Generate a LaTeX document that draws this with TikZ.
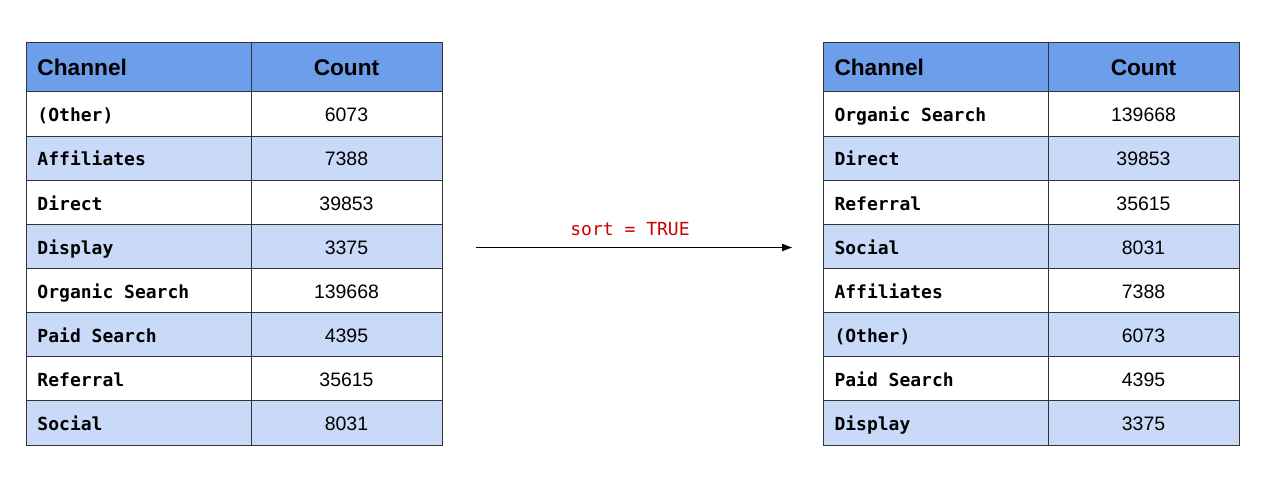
\documentclass[tikz,border=0pt]{standalone}
\usepackage{fontspec}
\setmainfont{Liberation Sans}
\newfontfamily\chanfont{DejaVu Sans Mono}
\usetikzlibrary{arrows.meta}

\definecolor{headblue}{RGB}{109,158,235}
\definecolor{rowblue}{RGB}{201,218,248}
\definecolor{sortred}{RGB}{204,0,0}
\definecolor{gridgray}{RGB}{51,51,51}

\tikzset{every picture/.style={line width=0.75pt}}
\tikzset{
  cellline/.style={draw=gridgray, line width=0.75pt},
  headtxt/.style={inner sep=0pt, text height=0.72em, text depth=0pt, font=\fontsize{17}{20}\selectfont\bfseries},
  chantxt/.style={inner sep=0pt, anchor=west, text height=0.72em, text depth=0pt, font=\fontsize{13.5}{16}\selectfont\chanfont\bfseries},
  counttxt/.style={inner sep=0pt, text height=0.72em, text depth=0pt, font=\fontsize{14.6}{17}\selectfont},
  sorttxt/.style={inner sep=0pt, text height=0.72em, text depth=0pt, text=sortred, font=\fontsize{13.5}{16}\selectfont\chanfont},
}

\begin{document}
\begin{tikzpicture}[x=0.75pt,y=0.75pt,yscale=-1]
\useasboundingbox (0,0) rectangle (1272,481);

%Shape: Rectangle [left header]
\draw [cellline, fill=headblue] (26,43) rectangle (251,92);
\draw [cellline, fill=headblue] (251,43) rectangle (442,92);
% Text Node
\node [headtxt, anchor=west] (lhchan) at (37,70.5) {Channel};
% Text Node
\node [headtxt] (lhcnt) at (346.5,70.5) {Count};

%Shape: Rectangle [left rows]
\foreach \chan/\cnt [count=\i] in {{(Other)}/6073, {Affiliates}/7388, {Direct}/39853, {Display}/3375, {Organic Search}/139668, {Paid Search}/4395, {Referral}/35615, {Social}/8031}{
  \pgfmathsetmacro{\yt}{92+(\i-1)*44.125}
  \pgfmathsetmacro{\yb}{\yt+44.125}
  \pgfmathsetmacro{\ym}{\yt+25}
  \ifodd\i \def\rowfill{white}\else \def\rowfill{rowblue}\fi
  \draw [cellline, fill=\rowfill] (26,\yt) rectangle (251,\yb);
  \draw [cellline, fill=\rowfill] (251,\yt) rectangle (442,\yb);
  \node [chantxt] (lchan\i) at (37,\ym) {\chan};
  \node [counttxt] (lcnt\i) at (346.5,\ym) {\cnt};
}

%Shape: Rectangle [right header]
\draw [cellline, fill=headblue] (823,43) rectangle (1048,92);
\draw [cellline, fill=headblue] (1048,43) rectangle (1239,92);
% Text Node
\node [headtxt, anchor=west] (rhchan) at (834,70.5) {Channel};
% Text Node
\node [headtxt] (rhcnt) at (1143.5,70.5) {Count};

%Shape: Rectangle [right rows]
\foreach \chan/\cnt [count=\i] in {{Organic Search}/139668, {Direct}/39853, {Referral}/35615, {Social}/8031, {Affiliates}/7388, {(Other)}/6073, {Paid Search}/4395, {Display}/3375}{
  \pgfmathsetmacro{\yt}{92+(\i-1)*44.125}
  \pgfmathsetmacro{\yb}{\yt+44.125}
  \pgfmathsetmacro{\ym}{\yt+25}
  \ifodd\i \def\rowfill{white}\else \def\rowfill{rowblue}\fi
  \draw [cellline, fill=\rowfill] (823,\yt) rectangle (1048,\yb);
  \draw [cellline, fill=\rowfill] (1048,\yt) rectangle (1239,\yb);
  \node [chantxt] (rchan\i) at (834,\ym) {\chan};
  \node [counttxt] (rcnt\i) at (1143.5,\ym) {\cnt};
}

%Right Arrow
\coordinate (sortfrom) at (476,247.5);
\coordinate (sortto) at (792,247.5);
\draw [-{Triangle[length=7.5pt,width=5.5pt]}] (sortfrom) -- (sortto);
% Text Node
\node [sorttxt] (sortlbl) at (630,231) {sort = TRUE};

\end{tikzpicture}
\end{document}
